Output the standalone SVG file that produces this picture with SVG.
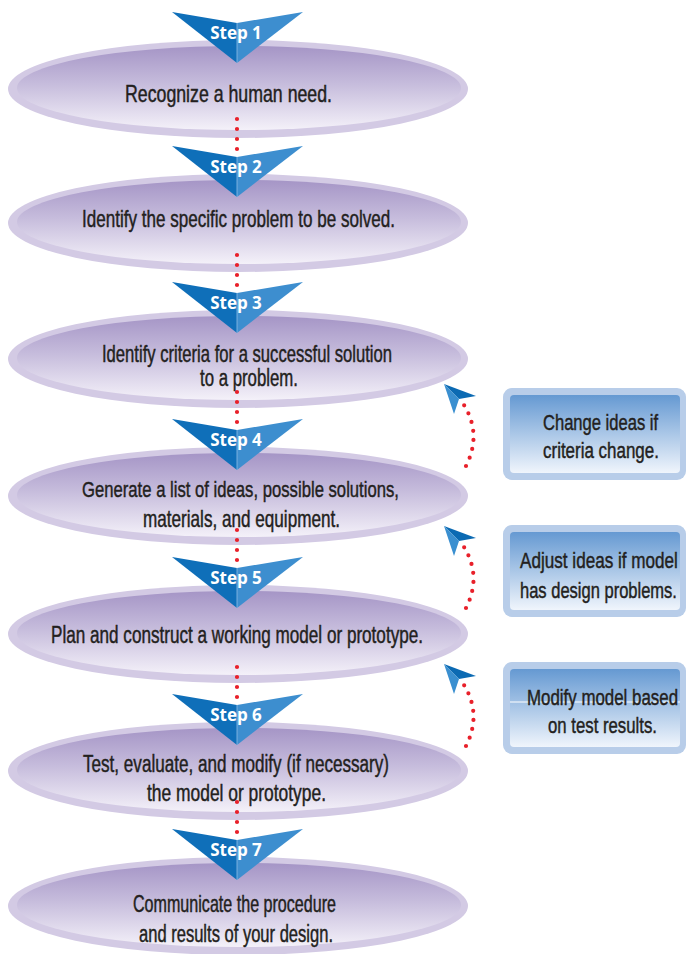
<svg xmlns="http://www.w3.org/2000/svg" xmlns:xlink="http://www.w3.org/1999/xlink" width="687" height="954" viewBox="0 0 687 954">
<style>
.t{font-family:"Liberation Sans",Arial,sans-serif;font-size:23px;fill:#231f20;stroke:#231f20;stroke-width:0.45}
.b{font-size:22px}
.s{font-family:"Open Sans","Liberation Sans",sans-serif;font-weight:bold;font-size:17px;fill:#ffffff;text-anchor:middle}
.dots{fill:none;stroke:#e8202a;stroke-width:4.2;stroke-linecap:round;stroke-dasharray:0 10}
.fdots{fill:none;stroke:#e8202a;stroke-width:4.2;stroke-linecap:round;stroke-dasharray:0 9.1}
.bo{fill:#b8cde9}
.bi{fill:url(#gB)}
</style>
<defs>
<linearGradient id="gE" x1="0" y1="0" x2="0" y2="1">
<stop offset="0" stop-color="#a595c6"/>
<stop offset="0.45" stop-color="#c6bcdc"/>
<stop offset="1" stop-color="#f4f1f9"/>
</linearGradient>
<linearGradient id="gB" x1="0" y1="0" x2="0" y2="1">
<stop offset="0" stop-color="#6599d2"/>
<stop offset="1" stop-color="#f0f5fc"/>
</linearGradient>
<g id="ell">
<ellipse cx="238" cy="0" rx="230" ry="49" fill="#d3cae4"/>
<ellipse cx="239" cy="-1" rx="222" ry="42" fill="url(#gE)"/>
</g>
<g id="tri">
<polygon points="172,0 237,11 237,51" fill="#0f6fb9"/>
<polygon points="303,0 237,11 237,51" fill="#3d8ecf"/>
<line x1="237" y1="11" x2="237" y2="51" stroke="#8fbde6" stroke-width="0.8"/>
</g>
<g id="arrowhead">
<polygon points="0,0 32,12 15,15" fill="#0b6ab3"/>
<polygon points="0,0 15,15 10,30" fill="#3a8fd0"/>
</g>
</defs>
<rect width="687" height="954" fill="#ffffff"/>

<g id="step1">
<use xlink:href="#ell" transform="translate(0,89)"/>
<text class="t" transform="translate(125,102) scale(0.771,1)" textLength="268.5" lengthAdjust="spacingAndGlyphs">Recognize a human need.</text>
</g>
<g id="step2">
<use xlink:href="#ell" transform="translate(0,223)"/>
<text class="t" transform="translate(82,227) scale(0.742,1)" textLength="421.8" lengthAdjust="spacingAndGlyphs">Identify the specific problem to be solved.</text>
</g>
<g id="step3">
<use xlink:href="#ell" transform="translate(0,359)"/>
<text class="t" transform="translate(102,362) scale(0.7225,1)" textLength="401.4" lengthAdjust="spacingAndGlyphs">Identify criteria for a successful solution</text>
<text class="t" transform="translate(200,386) scale(0.73,1)" textLength="134.2" lengthAdjust="spacingAndGlyphs">to a problem.</text>
</g>
<g id="step4">
<use xlink:href="#ell" transform="translate(0,496)"/>
<text class="t" transform="translate(82,497) scale(0.725,1)" textLength="437.2" lengthAdjust="spacingAndGlyphs">Generate a list of ideas, possible solutions,</text>
<text class="t" transform="translate(143,527) scale(0.745,1)" textLength="264.4" lengthAdjust="spacingAndGlyphs">materials, and equipment.</text>
</g>
<g id="step5">
<use xlink:href="#ell" transform="translate(0,634)"/>
<text class="t" transform="translate(51,643) scale(0.744,1)" textLength="500" lengthAdjust="spacingAndGlyphs">Plan and construct a working model or prototype.</text>
</g>
<g id="step6">
<use xlink:href="#ell" transform="translate(0,771)"/>
<text class="t" transform="translate(83,772) scale(0.739,1)" textLength="414.1" lengthAdjust="spacingAndGlyphs">Test, evaluate, and modify (if necessary)</text>
<text class="t" transform="translate(147,801) scale(0.757,1)" textLength="236.5" lengthAdjust="spacingAndGlyphs">the model or prototype.</text>
</g>
<g id="step7">
<use xlink:href="#ell" transform="translate(0,906)"/>
<text class="t" transform="translate(133,912) scale(0.70,1)" textLength="290" lengthAdjust="spacingAndGlyphs">Communicate the procedure</text>
<text class="t" transform="translate(139,942) scale(0.719,1)" textLength="269.8" lengthAdjust="spacingAndGlyphs">and results of your design.</text>
</g>

<g id="connectors">
<line class="dots" x1="237" y1="119" x2="237" y2="150"/>
<line class="dots" x1="237" y1="255" x2="237" y2="286"/>
<line class="dots" x1="237" y1="392" x2="237" y2="423"/>
<line class="dots" x1="237" y1="530" x2="237" y2="561"/>
<line class="dots" x1="237" y1="667" x2="237" y2="698"/>
<line class="dots" x1="237" y1="802" x2="237" y2="833"/>
<g id="feedback1" transform="translate(444,384)">
<path class="fdots" d="M22,82 Q38,50.5 20,21"/>
<use xlink:href="#arrowhead"/>
</g>
<g id="feedback2" transform="translate(444,526)">
<path class="fdots" d="M22,82 Q38,50.5 20,21"/>
<use xlink:href="#arrowhead"/>
</g>
<g id="feedback3" transform="translate(444,664)">
<path class="fdots" d="M22,82 Q38,50.5 20,21"/>
<use xlink:href="#arrowhead"/>
</g>
</g>

<g id="labels">
<g id="label1"><use xlink:href="#tri" transform="translate(0,12)"/><text class="s" x="236" y="39">Step 1</text></g>
<g id="label2"><use xlink:href="#tri" transform="translate(0,146)"/><text class="s" x="236" y="173">Step 2</text></g>
<g id="label3"><use xlink:href="#tri" transform="translate(0,282)"/><text class="s" x="236" y="309">Step 3</text></g>
<g id="label4"><use xlink:href="#tri" transform="translate(0,419)"/><text class="s" x="236" y="446">Step 4</text></g>
<g id="label5"><use xlink:href="#tri" transform="translate(0,557)"/><text class="s" x="236" y="584">Step 5</text></g>
<g id="label6"><use xlink:href="#tri" transform="translate(0,694)"/><text class="s" x="236" y="721">Step 6</text></g>
<g id="label7"><use xlink:href="#tri" transform="translate(0,829)"/><text class="s" x="236" y="856">Step 7</text></g>
</g>

<g id="box1">
<rect class="bo" x="503" y="388" width="183" height="92" rx="9"/>
<rect class="bi" x="510" y="395" width="170" height="78" rx="4"/>
<text class="t b" transform="translate(543,430) scale(0.693,1)" textLength="166" lengthAdjust="spacingAndGlyphs">Change ideas if</text>
<text class="t b" transform="translate(543,458) scale(0.771,1)" textLength="150.4" lengthAdjust="spacingAndGlyphs">criteria change.</text>
</g>
<g id="box2">
<rect class="bo" x="503" y="525" width="183" height="92" rx="9"/>
<rect class="bi" x="510" y="532" width="170" height="78" rx="4"/>
<text class="t b" transform="translate(520,568) scale(0.778,1)" textLength="203" lengthAdjust="spacingAndGlyphs">Adjust ideas if model</text>
<text class="t b" transform="translate(520,598) scale(0.751,1)" textLength="209" lengthAdjust="spacingAndGlyphs">has design problems.</text>
</g>
<g id="box3">
<rect class="bo" x="503" y="662" width="183" height="92" rx="9"/>
<rect class="bi" x="510" y="669" width="170" height="78" rx="4"/>
<line x1="510" y1="702" x2="680" y2="702" stroke="#ffffff" stroke-width="1.2"/>
<text class="t b" transform="translate(527,705) scale(0.767,1)" textLength="196.9" lengthAdjust="spacingAndGlyphs">Modify model based</text>
<text class="t b" transform="translate(548,733) scale(0.762,1)" textLength="143" lengthAdjust="spacingAndGlyphs">on test results.</text>
</g>
</svg>
